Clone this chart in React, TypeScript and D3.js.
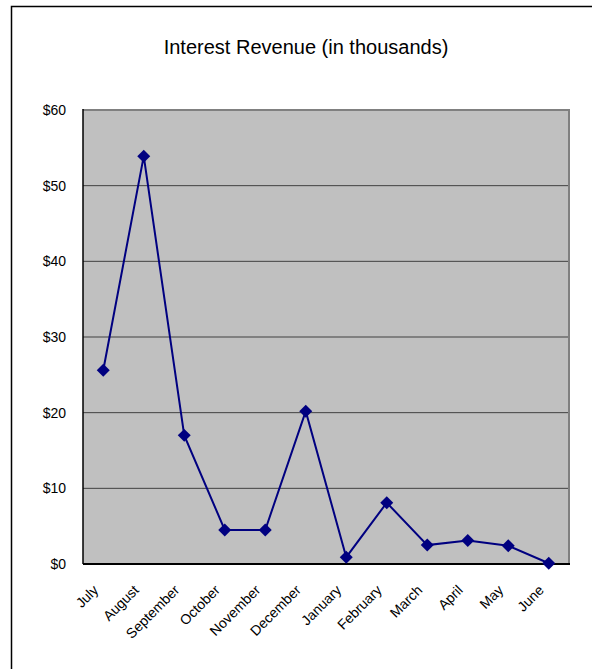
import React from "react";
import * as d3 from "d3";

const months = ["July","August","September","October","November","December","January","February","March","April","May","June"];
const revenue = [25.6, 53.9, 17.0, 4.5, 4.5, 20.2, 0.9, 8.1, 2.5, 3.1, 2.4, 0.1];
const yTicks = [0, 10, 20, 30, 40, 50, 60];
const title = "Interest Revenue (in thousands)";

export default function App() {
  const W = 592, H = 669;
  const left = 83, right = 569, top = 110, bottom = 564;
  const x = d3.scaleBand<string>().domain(months).range([left, right]);
  const y = d3.scaleLinear().domain([0, 60]).range([bottom, top]);
  const cx = (m: string) => (x(m) as number) + x.bandwidth() / 2;
  const line = d3.line<number>().x((_, i) => cx(months[i])).y((v) => y(v))(revenue) as string;
  const diamond = d3.symbol().type(d3.symbolSquare).size(84)() as string;
  const font = "Arial, 'Liberation Sans', sans-serif";
  return (
    <svg width={W} height={H} style={{ position: "absolute", left: 0, top: 0 }} fontFamily={font}>
      <rect x={0} y={0} width={W} height={H} fill="#fff" />
      <rect x={11.5} y={6.5} width={W + 10} height={H + 10} fill="none" stroke="#000" strokeWidth={1.5} />
      <text x={306} y={54} textAnchor="middle" fontSize={20} fill="#000">{title}</text>
      <rect x={left} y={top} width={right - left} height={bottom - top} fill="#c0c0c0" />
      {yTicks.filter((t) => t > 0 && t < 60).map((t) => (
        <line key={t} x1={left} x2={right} y1={y(t)} y2={y(t)} stroke="#404040" strokeWidth={1} />
      ))}
      <polyline points={`${left},${top} ${right},${top} ${right},${bottom}`} fill="none" stroke="#808080" strokeWidth={2} />
      <line x1={left} x2={left} y1={top - 1} y2={bottom} stroke="#000" strokeWidth={1.5} />
      <line x1={left} x2={right + 1} y1={bottom} y2={bottom} stroke="#000" strokeWidth={2} />
      {yTicks.map((t) => (
        <text key={t} x={66} y={y(t)} dy="0.35em" textAnchor="end" fontSize={14} fill="#000">
          {"$" + t}
        </text>
      ))}
      {months.map((m) => (
        <text key={m} transform={`translate(${cx(m) - 4},${591}) rotate(-45)`} textAnchor="end" fontSize={14} fill="#000">
          {m}
        </text>
      ))}
      <path d={line} fill="none" stroke="#000080" strokeWidth={2} />
      {revenue.map((v, i) => (
        <path key={i} d={diamond} transform={`translate(${cx(months[i])},${y(v)}) rotate(45)`} fill="#000080" />
      ))}
    </svg>
  );
}
